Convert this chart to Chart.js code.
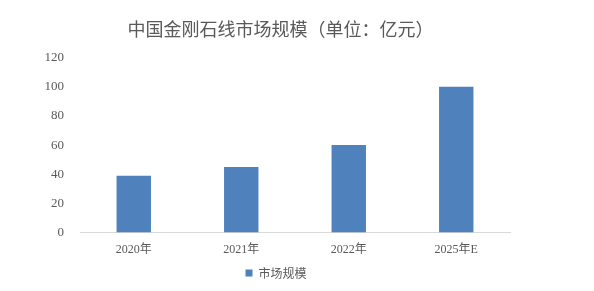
<!DOCTYPE html>
<html>
<head>
<meta charset="utf-8">
<script src="https://cdn.jsdelivr.net/npm/chart.js@4"></script>
<style>
  html, body { margin: 0; padding: 0; background: #fff; }
  #wrap { width: 594px; height: 291px; }
</style>
</head>
<body>
<div id="wrap"><canvas id="marketChart"></canvas></div>
<script>
// Data
const categories = ['2020年', '2021年', '2022年', '2025年E'];
const marketSize = [39, 45, 60, 100];
const yTicks = [0, 20, 40, 60, 80, 100, 120];

const fontFamily = '"Liberation Serif", "Noto Sans CJK SC", serif';

const ctx = document.getElementById('marketChart').getContext('2d');
const marketChart = new Chart(ctx, {
    type: 'bar',
    data: {
        labels: categories,
        datasets: [{
            label: '市场规模',
            data: marketSize,
            backgroundColor: '#4f81bd',
            categoryPercentage: 1,
            barPercentage: 0.32
        }]
    },
    options: {
        responsive: true,
        maintainAspectRatio: false,
        animation: false,
        layout: {
            padding: { left: 42, right: 84, top: 18, bottom: 2 }
        },
        plugins: {
            title: {
                display: true,
                // leading en space nudges the title a bit right, as in the original
                text: '\u2002中国金刚石线市场规模（单位：亿元）',
                color: '#595959',
                font: { family: '"Noto Sans CJK SC", sans-serif', size: 18, weight: 'normal' },
                padding: { top: 0, bottom: 18 }
            },
            legend: {
                position: 'bottom',
                labels: {
                    color: '#595959',
                    font: { family: '"Noto Sans CJK SC", sans-serif', size: 12 },
                    boxWidth: 7,
                    boxHeight: 7,
                    padding: 8
                }
            },
            tooltip: { enabled: false }
        },
        scales: {
            y: {
                min: 0,
                max: 120,
                afterBuildTicks: axis => {
                    axis.ticks = yTicks.map(v => ({ value: v }));
                },
                afterFit: axis => {
                    axis.width = 38;
                },
                grid: { display: false },
                border: { display: false },
                ticks: {
                    color: '#595959',
                    font: { family: fontFamily, size: 13 },
                    padding: 8
                }
            },
            x: {
                grid: { display: false },
                border: { display: true, color: '#d9d9d9' },
                ticks: {
                    color: '#595959',
                    font: { family: fontFamily, size: 12 },
                    padding: 2
                }
            }
        }
    }
});
</script>
</body>
</html>
